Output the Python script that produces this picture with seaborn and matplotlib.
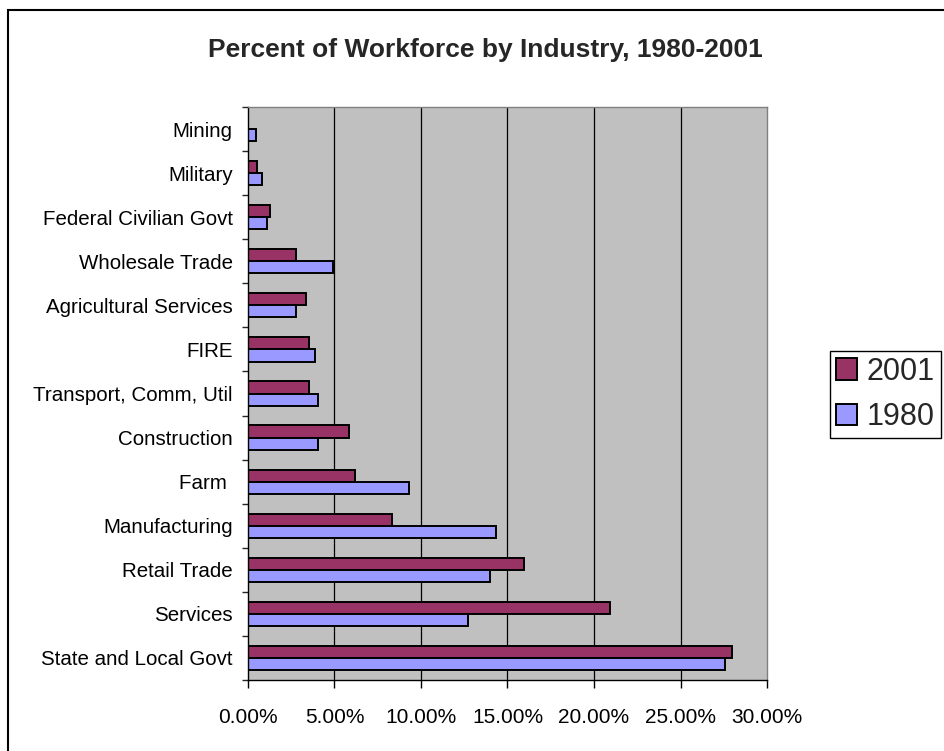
import numpy as np
import pandas as pd
import matplotlib
matplotlib.use("Agg")
import matplotlib.pyplot as plt
from matplotlib.patches import Rectangle
from matplotlib.ticker import FuncFormatter, FixedLocator
import seaborn as sns

industries = [
    "Mining", "Military", "Federal Civilian Govt", "Wholesale Trade",
    "Agricultural Services", "FIRE", "Transport, Comm, Util", "Construction",
    "Farm ", "Manufacturing", "Retail Trade", "Services", "State and Local Govt",
]
share_2001 = [0.0, 0.54, 1.29, 2.79, 3.33, 3.50, 3.52, 5.83, 6.19, 8.33, 15.98, 20.90, 27.96]
share_1980 = [0.46, 0.83, 1.12, 4.90, 2.79, 3.88, 4.06, 4.06, 9.33, 14.33, 14.00, 12.70, 27.58]
years = ["2001", "1980"]
x_ticks = [0, 5, 10, 15, 20, 25, 30]

df = pd.DataFrame({
    "industry": industries * 2,
    "share": share_2001 + share_1980,
    "year": [years[0]] * len(industries) + [years[1]] * len(industries),
})

sns.set_style("white")
plt.rcParams["font.family"] = ["Liberation Sans", "DejaVu Sans"]

W, H = 945, 751
fig = plt.figure(figsize=(W / 100, H / 100), dpi=100)
ax = fig.add_axes([248 / W, 1 - 680 / H, (767 - 248) / W, (680 - 107) / H])
ax.set_facecolor("#C0C0C0")

sns.barplot(
    data=df, x="share", y="industry", hue="year", hue_order=years,
    order=industries, palette={"2001": "#993366", "1980": "#9999FF"},
    saturation=1, width=0.55, edgecolor="black", linewidth=1.4,
    ax=ax, legend=True,
)

ax.set_xlim(0, 30)
ax.set_ylim(len(industries) - 0.5, -0.5)
ax.xaxis.set_major_locator(FixedLocator(x_ticks))
ax.xaxis.set_major_formatter(FuncFormatter(lambda v, p: f"{v:.2f}%"))
ax.set_xlabel("")
ax.set_ylabel("")

# vertical gridlines
for v in x_ticks[1:-1]:
    ax.axvline(v, color="black", lw=0.9, zorder=0.5)
ax.set_axisbelow(True)

# category labels centered, tick marks on boundaries
ax.tick_params(axis="y", which="major", length=0, pad=11, labelsize=14.8, colors="black")
ax.set_yticks(np.arange(-0.5, len(industries), 1.0), minor=True)
ax.tick_params(axis="y", which="minor", length=4, width=1, direction="out", left=True)
ax.tick_params(axis="x", which="major", length=6, width=1, direction="out",
               bottom=True, pad=14, labelsize=15, colors="black")

for side in ["left", "bottom"]:
    ax.spines[side].set_color("black")
    ax.spines[side].set_linewidth(1.0)
for side in ["top", "right"]:
    ax.spines[side].set_color("#808080")
    ax.spines[side].set_linewidth(1.0)

handles, labels = ax.get_legend_handles_labels()
ax.get_legend().remove()
fig.legend(
    handles, labels, loc="lower left",
    bbox_to_anchor=(830 / W, 1 - 438 / H), bbox_transform=fig.transFigure,
    borderaxespad=0, fontsize=22, frameon=True, fancybox=False, shadow=False,
    edgecolor="black", framealpha=1, handlelength=0.7, handleheight=0.7,
    handletextpad=0.3, labelspacing=0.5, borderpad=0.2,
)

fig.text(485 / W, 1 - 57 / H, "Percent of Workforce by Industry, 1980-2001",
         ha="center", va="baseline", fontsize=19, fontweight="bold")

# chart frame
fig.patches.append(Rectangle((8 / W, -0.05), 1.1, 1 - 10 / H + 0.05,
                             transform=fig.transFigure, fill=False,
                             edgecolor="black", lw=1.5))

fig.savefig("out.png", dpi=100)
